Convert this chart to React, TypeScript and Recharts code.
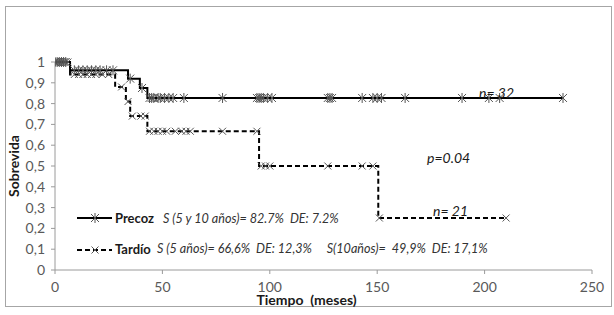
import React from 'react';
import { LineChart, Line, XAxis, YAxis } from 'recharts';

// Precoz (early) group: time in months, survival, censored mark
const precozTime = [0, 1, 2, 3, 4, 5, 7, 9, 11, 13, 15, 17, 19, 21, 24, 27, 34, 35, 39.5, 40.5, 43, 44, 45, 46, 48, 49, 51, 53, 55, 60, 78, 94, 95, 96, 97, 99, 101, 127, 128, 129, 143, 148, 150, 152, 163, 189.5, 202, 207, 236.5];
const precozSurv = [1, 1, 1, 1, 1, 1, 0.96, 0.96, 0.96, 0.96, 0.96, 0.96, 0.96, 0.96, 0.96, 0.96, 0.92, 0.92, 0.875, 0.875, 0.827, 0.827, 0.827, 0.827, 0.827, 0.827, 0.827, 0.827, 0.827, 0.827, 0.827, 0.827, 0.827, 0.827, 0.827, 0.827, 0.827, 0.827, 0.827, 0.827, 0.827, 0.827, 0.827, 0.827, 0.827, 0.827, 0.827, 0.827, 0.827];
const precozCens = [1, 1, 1, 1, 1, 1, 0, 1, 1, 1, 1, 1, 1, 1, 1, 1, 0, 1, 0, 1, 0, 1, 1, 1, 1, 1, 1, 1, 1, 1, 1, 1, 1, 1, 1, 1, 1, 1, 1, 1, 1, 1, 1, 1, 1, 1, 1, 1, 1];

// Tardío (late) group
const tardioTime = [0, 1.5, 3, 4.5, 6, 7, 9, 11, 13, 15, 17, 19, 22, 25, 28, 31, 33, 34, 35, 36, 40, 42, 43, 44, 46, 48, 50, 52, 56, 59, 61, 63, 78, 94, 95, 96, 98, 100, 127, 143, 148, 150.5, 151, 210];
const tardioSurv = [1, 1, 1, 1, 1, 0.94, 0.94, 0.94, 0.94, 0.94, 0.94, 0.94, 0.94, 0.94, 0.88, 0.88, 0.81, 0.81, 0.74, 0.74, 0.74, 0.74, 0.667, 0.667, 0.667, 0.667, 0.667, 0.667, 0.667, 0.667, 0.667, 0.667, 0.667, 0.667, 0.5, 0.5, 0.5, 0.5, 0.5, 0.5, 0.5, 0.25, 0.25, 0.25];
const tardioCens = [1, 1, 1, 1, 1, 0, 1, 1, 1, 1, 1, 1, 1, 1, 0, 1, 0, 1, 0, 1, 1, 1, 0, 1, 1, 1, 1, 1, 1, 1, 1, 1, 1, 1, 0, 1, 1, 1, 1, 1, 1, 0, 1, 1];

const xTicks = [0, 50, 100, 150, 200, 250];
const yTicks = [0, 0.1, 0.2, 0.3, 0.4, 0.5, 0.6, 0.7, 0.8, 0.9, 1];

const precozData = precozTime.map((t, i) => ({ t, s: precozSurv[i], c: precozCens[i] }));
const tardioData = tardioTime.map((t, i) => ({ t, s: tardioSurv[i], c: tardioCens[i] }));

const font = 'Lato, "Liberation Sans", sans-serif';
const markColor = '#555';

const StarDot = (props: any) => {
    const { cx, cy, payload, index } = props;
    if (!payload || !payload.c) return <g key={index} />;
    const r = 4;
    return (
        <g key={index} stroke={markColor} strokeWidth={1}>
            <line x1={cx - r} y1={cy - r} x2={cx + r} y2={cy + r} />
            <line x1={cx - r} y1={cy + r} x2={cx + r} y2={cy - r} />
            <line x1={cx} y1={cy - r - 1} x2={cx} y2={cy + r + 1} />
        </g>
    );
};

const CrossDot = (props: any) => {
    const { cx, cy, payload, index } = props;
    if (!payload || !payload.c) return <g key={index} />;
    const r = 3.5;
    return (
        <g key={index} stroke={markColor} strokeWidth={1}>
            <line x1={cx - r} y1={cy - r} x2={cx + r} y2={cy + r} />
            <line x1={cx - r} y1={cy + r} x2={cx + r} y2={cy - r} />
        </g>
    );
};

const txt = (left: number, top: number, style: React.CSSProperties = {}): React.CSSProperties => ({
    position: 'absolute',
    left,
    top,
    fontFamily: font,
    whiteSpace: 'nowrap',
    lineHeight: 1,
    ...style,
});

export default function App() {
    return (
        <div style={{ position: 'relative', width: 614, height: 315, background: '#fff' }}>
            <style>{`body{margin:0}`}</style>
            <div
                style={{
                    position: 'absolute',
                    left: 5,
                    top: 6,
                    width: 605,
                    height: 299,
                    border: '1px solid #a6a6a6',
                }}
            />
            <LineChart
                width={614}
                height={315}
                margin={{ top: 62, right: 22, bottom: 0, left: 0 }}
                style={{ position: 'absolute', left: 0, top: 0 }}
            >
                <XAxis
                    type="number"
                    dataKey="t"
                    domain={[0, 250]}
                    ticks={xTicks}
                    interval={0}
                    height={45}
                    stroke="#9a9a9a"
                    tickSize={4}
                    tickMargin={8}
                    tick={{ fill: '#595959', fontSize: 14, fontFamily: font }}
                    allowDataOverflow
                    label={{
                        value: 'Tiempo\u00a0\u00a0(meses)',
                        position: 'insideBottom',
                        offset: 10,
                        dx: -17,
                        style: { fill: '#1a1a1a', fontSize: 14, fontWeight: 700, fontFamily: font },
                    }}
                />
                <YAxis
                    type="number"
                    dataKey="s"
                    domain={[0, 1]}
                    ticks={yTicks}
                    interval={0}
                    width={55}
                    stroke="#9a9a9a"
                    tickSize={4}
                    tickMargin={6}
                    tickFormatter={(v: number) => String(Math.round(v * 10) / 10).replace('.', ',')}
                    tick={{ fill: '#595959', fontSize: 14, fontFamily: font }}
                    label={{
                        value: 'Sobrevida',
                        angle: -90,
                        position: 'insideLeft',
                        offset: 0,
                        dx: 14,
                        style: { textAnchor: 'middle', fill: '#1a1a1a', fontSize: 14, fontWeight: 700, fontFamily: font },
                    }}
                />
                <Line
                    data={precozData}
                    dataKey="s"
                    type="stepAfter"
                    stroke="#000"
                    strokeWidth={2}
                    dot={StarDot}
                    activeDot={false}
                    isAnimationActive={false}
                />
                <Line
                    data={tardioData}
                    dataKey="s"
                    type="stepAfter"
                    stroke="#000"
                    strokeWidth={2}
                    strokeDasharray="5 3"
                    dot={CrossDot}
                    activeDot={false}
                    isAnimationActive={false}
                />
            </LineChart>

            {/* annotations */}
            <div style={txt(479, 86, { fontSize: 14, fontStyle: 'italic', color: '#1a1a1a' })}>n= 32</div>
            <div style={txt(427, 151, { fontSize: 14, fontStyle: 'italic', color: '#1a1a1a' })}>p=0.04</div>
            <div style={txt(433, 204, { fontSize: 14, fontStyle: 'italic', color: '#1a1a1a' })}>n= 21</div>

            {/* legend */}
            <svg style={{ position: 'absolute', left: 76, top: 210 }} width={38} height={48}>
                <line x1={1} y1={8} x2={36} y2={8} stroke="#000" strokeWidth={2} />
                <StarDot cx={19} cy={8} payload={{ c: 1 }} index={0} />
                <line x1={1} y1={40} x2={36} y2={40} stroke="#000" strokeWidth={2} strokeDasharray="5 3" />
                <CrossDot cx={19} cy={40} payload={{ c: 1 }} index={1} />
            </svg>
            <div style={txt(115, 212, { fontSize: 13, fontWeight: 700, color: '#1a1a1a' })}>Precoz</div>
            <div style={txt(115, 243, { fontSize: 13, fontWeight: 700, color: '#1a1a1a' })}>Tardío</div>
            <div style={txt(163, 213, { fontSize: 12.6, fontStyle: 'italic', color: '#333' })}>
                S (5 y 10 años)= 82.7%&nbsp;&nbsp;DE: 7.2%
            </div>
            <div style={txt(157, 243, { fontSize: 12.6, fontStyle: 'italic', color: '#333' })}>
                S (5 años)= 66,6%&nbsp;&nbsp;DE: 12,3%&nbsp;&nbsp;&nbsp;&nbsp; S(10años)=&nbsp; 49,9%&nbsp;&nbsp;DE: 17,1%
            </div>
        </div>
    );
}
